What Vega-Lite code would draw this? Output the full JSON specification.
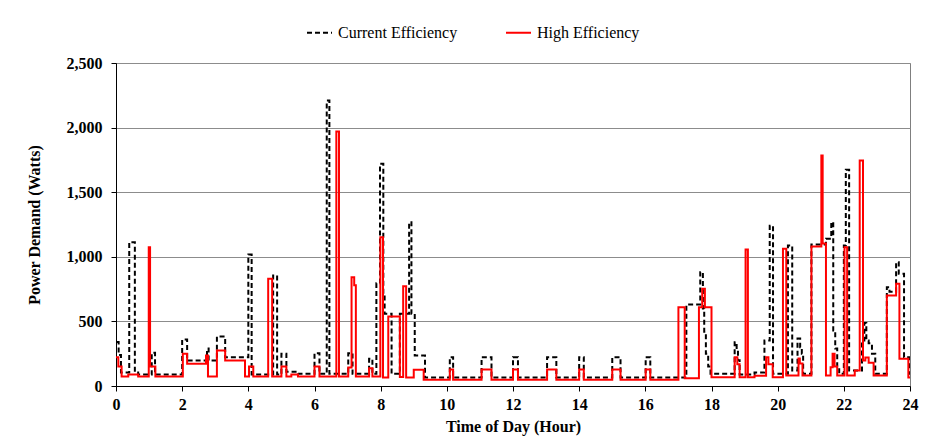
{
  "$schema": "https://vega.github.io/schema/vega-lite/v6.json",
  "width": 794,
  "height": 323,
  "autosize": "none",
  "padding": {"left": 116, "top": 63, "right": 16, "bottom": 53},
  "background": "white",
  "config": {
    "font": "Liberation Serif",
    "view": {"stroke": "#7f7f7f", "strokeWidth": 1},
    "axis": {"labelFont": "Liberation Serif", "titleFont": "Liberation Serif", "labelFontSize": 16, "titleFontSize": 16, "labelFontWeight": "bold", "titleFontWeight": "bold", "labelColor": "black", "titleColor": "black", "domainColor": "black", "tickColor": "black", "tickSize": 5, "gridColor": "#8c8c8c", "gridWidth": 1}
  },
  "data": {"values": [
    {"s":"Current Efficiency","h":0,"w":340},
    {"s":"Current Efficiency","h":0.08,"w":240},
    {"s":"Current Efficiency","h":0.15,"w":105},
    {"s":"Current Efficiency","h":0.4,"w":1113},
    {"s":"Current Efficiency","h":0.57,"w":105},
    {"s":"Current Efficiency","h":0.67,"w":89},
    {"s":"Current Efficiency","h":1.08,"w":257},
    {"s":"Current Efficiency","h":1.18,"w":89},
    {"s":"Current Efficiency","h":2.0,"w":360},
    {"s":"Current Efficiency","h":2.15,"w":197},
    {"s":"Current Efficiency","h":2.75,"w":290},
    {"s":"Current Efficiency","h":2.8,"w":197},
    {"s":"Current Efficiency","h":3.05,"w":383},
    {"s":"Current Efficiency","h":3.3,"w":223},
    {"s":"Current Efficiency","h":4.0,"w":1018},
    {"s":"Current Efficiency","h":4.1,"w":89},
    {"s":"Current Efficiency","h":4.75,"w":855},
    {"s":"Current Efficiency","h":4.87,"w":89},
    {"s":"Current Efficiency","h":5.0,"w":249},
    {"s":"Current Efficiency","h":5.15,"w":110},
    {"s":"Current Efficiency","h":5.5,"w":94},
    {"s":"Current Efficiency","h":6.0,"w":254},
    {"s":"Current Efficiency","h":6.15,"w":94},
    {"s":"Current Efficiency","h":6.37,"w":2209},
    {"s":"Current Efficiency","h":6.45,"w":94},
    {"s":"Current Efficiency","h":7.02,"w":254},
    {"s":"Current Efficiency","h":7.15,"w":94},
    {"s":"Current Efficiency","h":7.65,"w":210},
    {"s":"Current Efficiency","h":7.75,"w":94},
    {"s":"Current Efficiency","h":7.87,"w":796},
    {"s":"Current Efficiency","h":7.98,"w":1720},
    {"s":"Current Efficiency","h":8.08,"w":713},
    {"s":"Current Efficiency","h":8.12,"w":559},
    {"s":"Current Efficiency","h":8.33,"w":94},
    {"s":"Current Efficiency","h":8.58,"w":559},
    {"s":"Current Efficiency","h":8.86,"w":1268},
    {"s":"Current Efficiency","h":8.93,"w":559},
    {"s":"Current Efficiency","h":9.03,"w":236},
    {"s":"Current Efficiency","h":9.34,"w":65},
    {"s":"Current Efficiency","h":10.09,"w":223},
    {"s":"Current Efficiency","h":10.19,"w":65},
    {"s":"Current Efficiency","h":11.05,"w":223},
    {"s":"Current Efficiency","h":11.35,"w":65},
    {"s":"Current Efficiency","h":12.0,"w":223},
    {"s":"Current Efficiency","h":12.15,"w":65},
    {"s":"Current Efficiency","h":13.03,"w":223},
    {"s":"Current Efficiency","h":13.31,"w":65},
    {"s":"Current Efficiency","h":14.0,"w":223},
    {"s":"Current Efficiency","h":14.14,"w":65},
    {"s":"Current Efficiency","h":15.0,"w":223},
    {"s":"Current Efficiency","h":15.25,"w":65},
    {"s":"Current Efficiency","h":16.01,"w":223},
    {"s":"Current Efficiency","h":16.15,"w":65},
    {"s":"Current Efficiency","h":17.24,"w":631},
    {"s":"Current Efficiency","h":17.66,"w":881},
    {"s":"Current Efficiency","h":17.74,"w":600},
    {"s":"Current Efficiency","h":17.78,"w":420},
    {"s":"Current Efficiency","h":17.83,"w":249},
    {"s":"Current Efficiency","h":17.9,"w":150},
    {"s":"Current Efficiency","h":17.97,"w":94},
    {"s":"Current Efficiency","h":18.7,"w":339},
    {"s":"Current Efficiency","h":18.76,"w":280},
    {"s":"Current Efficiency","h":18.8,"w":200},
    {"s":"Current Efficiency","h":18.85,"w":89},
    {"s":"Current Efficiency","h":19.3,"w":105},
    {"s":"Current Efficiency","h":19.6,"w":352},
    {"s":"Current Efficiency","h":19.76,"w":1240},
    {"s":"Current Efficiency","h":19.86,"w":94},
    {"s":"Current Efficiency","h":20.31,"w":1087},
    {"s":"Current Efficiency","h":20.44,"w":120},
    {"s":"Current Efficiency","h":20.6,"w":367},
    {"s":"Current Efficiency","h":20.68,"w":300},
    {"s":"Current Efficiency","h":20.73,"w":250},
    {"s":"Current Efficiency","h":20.77,"w":94},
    {"s":"Current Efficiency","h":21.02,"w":1095},
    {"s":"Current Efficiency","h":21.46,"w":1140},
    {"s":"Current Efficiency","h":21.62,"w":1268},
    {"s":"Current Efficiency","h":21.68,"w":430},
    {"s":"Current Efficiency","h":21.74,"w":290},
    {"s":"Current Efficiency","h":21.8,"w":150},
    {"s":"Current Efficiency","h":21.86,"w":94},
    {"s":"Current Efficiency","h":22.0,"w":1087},
    {"s":"Current Efficiency","h":22.06,"w":1673},
    {"s":"Current Efficiency","h":22.16,"w":120},
    {"s":"Current Efficiency","h":22.55,"w":352},
    {"s":"Current Efficiency","h":22.62,"w":487},
    {"s":"Current Efficiency","h":22.68,"w":352},
    {"s":"Current Efficiency","h":22.75,"w":330},
    {"s":"Current Efficiency","h":22.85,"w":250},
    {"s":"Current Efficiency","h":22.95,"w":94},
    {"s":"Current Efficiency","h":23.3,"w":765},
    {"s":"Current Efficiency","h":23.38,"w":730},
    {"s":"Current Efficiency","h":23.58,"w":958},
    {"s":"Current Efficiency","h":23.66,"w":868},
    {"s":"Current Efficiency","h":23.82,"w":223},
    {"s":"Current Efficiency","h":23.97,"w":94},
    {"s":"Current Efficiency","h":24,"w":94},
    {"s":"High Efficiency","h":0,"w":223},
    {"s":"High Efficiency","h":0.07,"w":151},
    {"s":"High Efficiency","h":0.17,"w":74},
    {"s":"High Efficiency","h":0.37,"w":89},
    {"s":"High Efficiency","h":0.67,"w":74},
    {"s":"High Efficiency","h":0.99,"w":1074},
    {"s":"High Efficiency","h":1.03,"w":151},
    {"s":"High Efficiency","h":1.19,"w":74},
    {"s":"High Efficiency","h":2.02,"w":249},
    {"s":"High Efficiency","h":2.15,"w":172},
    {"s":"High Efficiency","h":2.72,"w":236},
    {"s":"High Efficiency","h":2.78,"w":74},
    {"s":"High Efficiency","h":3.05,"w":275},
    {"s":"High Efficiency","h":3.3,"w":197},
    {"s":"High Efficiency","h":3.9,"w":74},
    {"s":"High Efficiency","h":4.02,"w":151},
    {"s":"High Efficiency","h":4.15,"w":74},
    {"s":"High Efficiency","h":4.6,"w":830},
    {"s":"High Efficiency","h":4.72,"w":74},
    {"s":"High Efficiency","h":5.0,"w":151},
    {"s":"High Efficiency","h":5.15,"w":74},
    {"s":"High Efficiency","h":5.3,"w":89},
    {"s":"High Efficiency","h":5.5,"w":74},
    {"s":"High Efficiency","h":6.0,"w":151},
    {"s":"High Efficiency","h":6.15,"w":74},
    {"s":"High Efficiency","h":6.66,"w":1970},
    {"s":"High Efficiency","h":6.74,"w":74},
    {"s":"High Efficiency","h":7.02,"w":144},
    {"s":"High Efficiency","h":7.12,"w":842},
    {"s":"High Efficiency","h":7.2,"w":780},
    {"s":"High Efficiency","h":7.25,"w":74},
    {"s":"High Efficiency","h":7.65,"w":138},
    {"s":"High Efficiency","h":7.75,"w":74},
    {"s":"High Efficiency","h":7.99,"w":1152},
    {"s":"High Efficiency","h":8.07,"w":66},
    {"s":"High Efficiency","h":8.23,"w":538},
    {"s":"High Efficiency","h":8.58,"w":70},
    {"s":"High Efficiency","h":8.68,"w":773},
    {"s":"High Efficiency","h":8.77,"w":66},
    {"s":"High Efficiency","h":9.0,"w":125},
    {"s":"High Efficiency","h":9.3,"w":48},
    {"s":"High Efficiency","h":10.09,"w":128},
    {"s":"High Efficiency","h":10.19,"w":48},
    {"s":"High Efficiency","h":11.05,"w":128},
    {"s":"High Efficiency","h":11.35,"w":48},
    {"s":"High Efficiency","h":12.0,"w":128},
    {"s":"High Efficiency","h":12.15,"w":48},
    {"s":"High Efficiency","h":13.03,"w":128},
    {"s":"High Efficiency","h":13.31,"w":48},
    {"s":"High Efficiency","h":14.0,"w":128},
    {"s":"High Efficiency","h":14.14,"w":48},
    {"s":"High Efficiency","h":15.0,"w":128},
    {"s":"High Efficiency","h":15.25,"w":48},
    {"s":"High Efficiency","h":16.01,"w":128},
    {"s":"High Efficiency","h":16.15,"w":48},
    {"s":"High Efficiency","h":17.0,"w":610},
    {"s":"High Efficiency","h":17.19,"w":60},
    {"s":"High Efficiency","h":17.62,"w":610},
    {"s":"High Efficiency","h":17.72,"w":752},
    {"s":"High Efficiency","h":17.8,"w":610},
    {"s":"High Efficiency","h":18.0,"w":68},
    {"s":"High Efficiency","h":18.7,"w":223},
    {"s":"High Efficiency","h":18.78,"w":168},
    {"s":"High Efficiency","h":18.85,"w":68},
    {"s":"High Efficiency","h":19.03,"w":1056},
    {"s":"High Efficiency","h":19.1,"w":68},
    {"s":"High Efficiency","h":19.3,"w":80},
    {"s":"High Efficiency","h":19.65,"w":223},
    {"s":"High Efficiency","h":19.72,"w":168},
    {"s":"High Efficiency","h":19.85,"w":68},
    {"s":"High Efficiency","h":20.16,"w":1062},
    {"s":"High Efficiency","h":20.26,"w":81},
    {"s":"High Efficiency","h":20.63,"w":213},
    {"s":"High Efficiency","h":20.67,"w":174},
    {"s":"High Efficiency","h":20.75,"w":81},
    {"s":"High Efficiency","h":21.02,"w":1080},
    {"s":"High Efficiency","h":21.32,"w":1784},
    {"s":"High Efficiency","h":21.36,"w":1103},
    {"s":"High Efficiency","h":21.46,"w":81},
    {"s":"High Efficiency","h":21.6,"w":146},
    {"s":"High Efficiency","h":21.66,"w":250},
    {"s":"High Efficiency","h":21.72,"w":150},
    {"s":"High Efficiency","h":21.8,"w":81},
    {"s":"High Efficiency","h":22.02,"w":1074},
    {"s":"High Efficiency","h":22.1,"w":81},
    {"s":"High Efficiency","h":22.33,"w":120},
    {"s":"High Efficiency","h":22.48,"w":1745},
    {"s":"High Efficiency","h":22.58,"w":197},
    {"s":"High Efficiency","h":22.65,"w":220},
    {"s":"High Efficiency","h":22.75,"w":180},
    {"s":"High Efficiency","h":22.9,"w":81},
    {"s":"High Efficiency","h":23.3,"w":700},
    {"s":"High Efficiency","h":23.58,"w":791},
    {"s":"High Efficiency","h":23.68,"w":210},
    {"s":"High Efficiency","h":23.95,"w":66},
    {"s":"High Efficiency","h":24,"w":66}
  ]},
  "mark": {"type": "line", "interpolate": "step-after", "strokeWidth": 2, "clip": true},
  "encoding": {
    "x": {"field": "h", "type": "quantitative", "scale": {"domain": [0, 24], "nice": false},
      "axis": {"values": [0,2,4,6,8,10,12,14,16,18,20,22,24], "format": "d", "grid": false, "title": "Time of Day (Hour)", "labelPadding": 5, "titlePadding": 6, "labelFlush": false}},
    "y": {"field": "w", "type": "quantitative", "scale": {"domain": [0, 2500], "nice": false},
      "axis": {"values": [0,500,1000,1500,2000,2500], "format": ",.0f", "grid": true, "title": "Power Demand (Watts)", "labelPadding": 9, "titlePadding": 24}},
    "color": {"field": "s", "type": "nominal", "scale": {"domain": ["Current Efficiency", "High Efficiency"], "range": ["#000000", "#ff0000"]},
      "legend": {"title": null, "orient": "none", "legendX": 190, "legendY": -44, "direction": "horizontal", "symbolType": "stroke", "symbolSize": 625, "symbolStrokeWidth": 2, "labelFont": "Liberation Serif", "labelFontSize": 16, "labelColor": "black", "columnPadding": 44, "labelOffset": 5}},
    "strokeDash": {"field": "s", "type": "nominal", "scale": {"domain": ["Current Efficiency", "High Efficiency"], "range": [[5, 3], [1, 0]]}, "legend": null}
  }
}
